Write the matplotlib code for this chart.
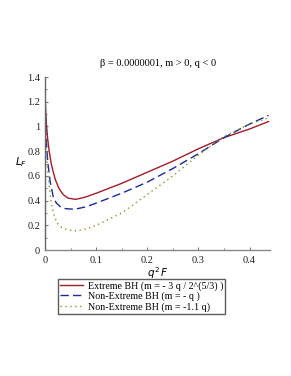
import numpy as np
import matplotlib
matplotlib.use("Agg")
import matplotlib.pyplot as plt

plt.rcParams['font.family'] = ['Liberation Serif', 'DejaVu Serif']

# values (x = q^2 F, y = L_F)
x_red = [0, 0.002, 0.005, 0.008, 0.012, 0.016, 0.02, 0.027, 0.035, 0.045, 0.06, 0.08, 0.1, 0.15, 0.2, 0.25, 0.3, 0.35, 0.4, 0.437]
y_red = [1.25, 1.05, 0.9, 0.8, 0.7, 0.63, 0.57, 0.5, 0.45, 0.42, 0.41, 0.43, 0.46, 0.54, 0.63, 0.72, 0.82, 0.91, 0.98, 1.04]

x_blue = [0, 0.002, 0.005, 0.01, 0.016, 0.022, 0.03, 0.04, 0.058, 0.08, 0.1, 0.15, 0.2, 0.25, 0.3, 0.35, 0.4, 0.437]
y_blue = [1.2, 0.9, 0.72, 0.55, 0.43, 0.38, 0.35, 0.335, 0.33, 0.35, 0.38, 0.46, 0.55, 0.66, 0.78, 0.91, 1.02, 1.09]

x_green = [0, 0.002, 0.0045, 0.0075, 0.011, 0.016, 0.023, 0.032, 0.043, 0.06, 0.08, 0.1, 0.15, 0.2, 0.25, 0.3, 0.35, 0.4, 0.437]
y_green = [1.15, 0.85, 0.68, 0.54, 0.41, 0.3, 0.22, 0.185, 0.165, 0.155, 0.17, 0.2, 0.3, 0.45, 0.6, 0.77, 0.92, 1.02, 1.07]

labels = ["Extreme BH (m = - 3 q / 2^(5/3) )",
          "Non-Extreme BH (m = - q )",
          "Non-Extreme BH (m = -1.1 q)"]

fig = plt.figure(figsize=(2.91, 3.76), dpi=100)
ax = fig.add_axes([0.155, 0.335, 0.773, 0.46])

l1, = ax.plot(x_red, y_red, color='#a01c28', lw=1.0, label=labels[0])
l2, = ax.plot(x_blue, y_blue, color='#1a2a9a', lw=1.0, dashes=(6, 3), label=labels[1])
l3, = ax.plot(x_green, y_green, color='#7a9a30', lw=1.0, ls=(0, (1, 2.5)), label=labels[2])

ax.set_xlim(0, 0.44)
ax.set_ylim(0, 1.4)
ax.set_xticks([0, 0.1, 0.2, 0.3, 0.4])
ax.set_xticklabels(['0', '0.1', '0.2', '0.3', '0.4'])
ax.set_xticks([0.05, 0.15, 0.25, 0.35], minor=True)
ax.set_yticks([0, 0.2, 0.4, 0.6, 0.8, 1.0, 1.2, 1.4])
ax.set_yticklabels(['0', '0.2', '0.4', '0.6', '0.8', '1', '1.2', '1.4'])
ax.set_yticks([0.1, 0.3, 0.5, 0.7, 0.9, 1.1, 1.3], minor=True)
ax.tick_params(labelsize=7.5, length=2.5, width=0.6, direction='in', colors='#555555', labelcolor='#222222')
ax.tick_params(axis='x', pad=4.5)
ax.tick_params(axis='y', pad=3.5)
ax.tick_params(which='minor', length=1.5, width=0.5, direction='in', colors='#555555')
for s in ['top', 'right']:
    ax.spines[s].set_visible(False)
ax.spines['left'].set_color('#666666')
ax.spines['bottom'].set_color('#888888')
for s in ['left', 'bottom']:
    ax.spines[s].set_linewidth(1.0)

ax.set_title("β = 0.0000001, m > 0, q < 0", fontsize=7.5, pad=8)
ax.set_xlabel("$q^2\\,F$", fontsize=7.5, labelpad=0)
ax.set_ylabel("$L_F$", fontsize=7.5, rotation=0)
ax.yaxis.set_label_coords(-0.107, 0.47)

fig.legend(handles=[l1, l2, l3], loc='upper left', bbox_to_anchor=(0.198, 0.258),
           fontsize=7.2, frameon=True, fancybox=False, edgecolor='#333333',
           handlelength=2.3, handletextpad=0.5, borderpad=0.2, labelspacing=0.1,
           borderaxespad=0)

fig.savefig("out.png", dpi=100)
